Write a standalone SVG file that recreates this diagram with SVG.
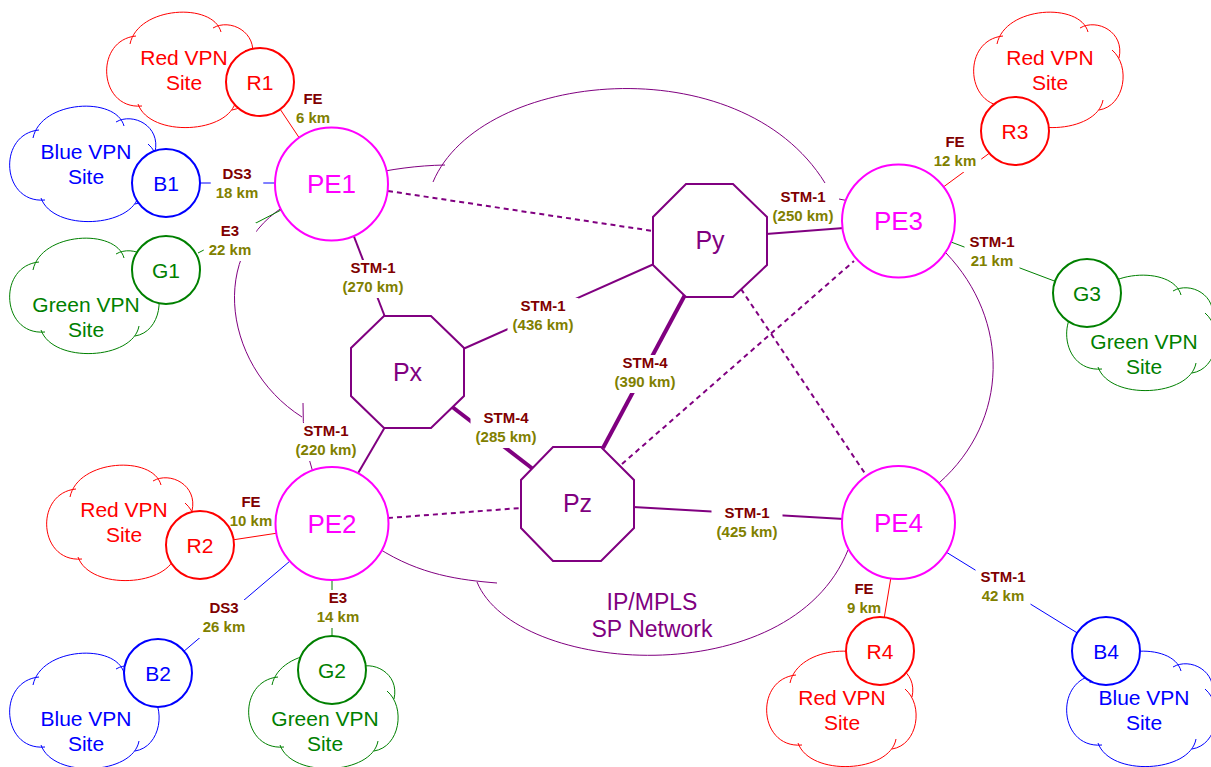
<svg xmlns="http://www.w3.org/2000/svg" width="1211" height="767" viewBox="0 0 1211 767">
<style>
text { font-family: "Liberation Sans", Arial, sans-serif; text-anchor: middle; }
.cloud { fill: none; stroke-width: 1; }
.red { stroke: #ff0000; }
.blue { stroke: #0000ff; }
.green { stroke: #008000; }
.tred { fill: #ff0000; }
.tblue { fill: #0000ff; }
.tgreen { fill: #008000; }
.site { fill: #ffffff; stroke-width: 2; }
.sitelbl { font-size: 21px; }
.ctext { font-size: 21px; }
.pe { fill: #ffffff; stroke: #ff00ff; stroke-width: 2; }
.pelbl { font-size: 26px; fill: #ff00ff; }
.core { fill: #ffffff; stroke: #800080; stroke-width: 2; }
.corelbl { font-size: 25px; fill: #800080; }
.net { fill: none; stroke: #800080; stroke-width: 1; }
.nettext { font-size: 23px; fill: #800080; }
.acc { stroke-width: 1; fill: none; }
.stm1 { stroke: #800080; stroke-width: 2; }
.stm4 { stroke: #800080; stroke-width: 4; }
.dot { stroke: #800080; stroke-width: 2; stroke-dasharray: 5 4; }
.lbg { fill: #ffffff; }
.l1 { font-size: 15px; font-weight: bold; fill: #800000; }
.l2 { font-size: 15px; font-weight: bold; fill: #808000; }
</style>
<defs>
<path id="cloud" d="M 34,92 C -10,96 -14,26 28,22 M 22,30 C 30,-8 105,-12 113,18 M 105,14 C 122,4 150,18 144,44 M 137,36 C 156,52 150,92 124,96 M 128,86 C 122,120 42,124 30,90"/>
</defs>

<g id="network">
<path class="net" d="M 302,417 C 220,365 205,240 300,198 C 335,180 390,166 445,165"/>
<path class="net" d="M 303,403 Q 302,440 314,476"/>
<path class="net" d="M 433,182 C 480,70 740,45 825,183"/>
<path class="net" d="M 839,199 Q 850,200 862,206"/>
<path class="net" d="M 946,253 C 1010,320 1010,420 939,483"/>
<path class="net" d="M 477,582 C 515,675 790,695 848,550"/>
<path class="net" d="M 378,548 C 420,575 460,580 497,583"/>
<text class="nettext" x="652" y="610">IP/MPLS</text>
<text class="nettext" x="652" y="637">SP Network</text>
</g>

<g id="connectors">
<line class="acc red" x1="278" y1="106" x2="300" y2="139"/>
<line class="acc blue" x1="199" y1="183" x2="276" y2="183"/>
<line class="acc green" x1="198" y1="253" x2="283" y2="209"/>
<line class="acc red" x1="232" y1="540" x2="278" y2="533"/>
<line class="acc blue" x1="183" y1="652" x2="290" y2="561"/>
<line class="acc green" x1="332" y1="578" x2="332" y2="638"/>
<line class="acc red" x1="942" y1="188" x2="991" y2="152"/>
<line class="acc green" x1="951" y1="242" x2="1057" y2="282"/>
<line class="acc red" x1="891" y1="577" x2="884" y2="619"/>
<line class="acc blue" x1="946" y1="552" x2="1079" y2="634"/>
<line class="stm1" x1="353" y1="234" x2="385" y2="317"/>
<line class="stm1" x1="463" y1="349" x2="654" y2="264"/>
<line class="stm1" x1="766" y1="234" x2="844" y2="228"/>
<line class="stm1" x1="385" y1="427" x2="357" y2="475"/>
<line class="stm1" x1="633" y1="507" x2="844" y2="519"/>
<line class="stm4" x1="686" y1="293" x2="603" y2="448"/>
<line class="stm4" x1="451" y1="406" x2="533" y2="469"/>
<line class="dot" x1="388" y1="191" x2="653" y2="231"/>
<line class="dot" x1="388" y1="518" x2="521" y2="508"/>
<line class="dot" x1="741" y1="289" x2="866" y2="475"/>
<line class="dot" x1="622" y1="464" x2="854" y2="261"/>

<g id="labels">
<text class="l1" x="313" y="104">FE</text><text class="l2" x="313" y="123">6 km</text>
<rect class="lbg" x="210.75" y="166" width="52.5" height="38"/><text class="l1" x="237" y="179">DS3</text><text class="l2" x="237" y="198">18 km</text>
<rect class="lbg" x="203.75" y="223" width="52.5" height="38"/><text class="l1" x="230" y="236">E3</text><text class="l2" x="230" y="255">22 km</text>
<rect class="lbg" x="337.5" y="260" width="71" height="38"/><text class="l1" x="373" y="273">STM-1</text><text class="l2" x="373" y="292">(270 km)</text>
<rect class="lbg" x="507.5" y="298" width="71" height="38"/><text class="l1" x="543" y="311">STM-1</text><text class="l2" x="543" y="330">(436 km)</text>
<rect class="lbg" x="609.5" y="355" width="71" height="38"/><text class="l1" x="645" y="368">STM-4</text><text class="l2" x="645" y="387">(390 km)</text>
<rect class="lbg" x="470.5" y="410" width="71" height="38"/><text class="l1" x="506" y="423">STM-4</text><text class="l2" x="506" y="442">(285 km)</text>
<text class="l1" x="803" y="202">STM-1</text><text class="l2" x="803" y="221">(250 km)</text>
<rect class="lbg" x="290.5" y="423" width="71" height="38"/><text class="l1" x="326" y="436">STM-1</text><text class="l2" x="326" y="455">(220 km)</text>
<text class="l1" x="251" y="507">FE</text><text class="l2" x="251" y="526">10 km</text>
<rect class="lbg" x="197.75" y="600" width="52.5" height="38"/><text class="l1" x="224" y="613">DS3</text><text class="l2" x="224" y="632">26 km</text>
<rect class="lbg" x="311.75" y="590" width="52.5" height="38"/><text class="l1" x="338" y="603">E3</text><text class="l2" x="338" y="622">14 km</text>
<rect class="lbg" x="928.75" y="134" width="52.5" height="38"/><text class="l1" x="955" y="147">FE</text><text class="l2" x="955" y="166">12 km</text>
<rect class="lbg" x="964.5" y="234" width="55" height="38"/><text class="l1" x="992" y="247">STM-1</text><text class="l2" x="992" y="266">21 km</text>
<rect class="lbg" x="711.5" y="505" width="71" height="38"/><text class="l1" x="747" y="518">STM-1</text><text class="l2" x="747" y="537">(425 km)</text>
<text class="l1" x="864" y="594">FE</text><text class="l2" x="864" y="613">9 km</text>
<rect class="lbg" x="975.5" y="569" width="55" height="38"/><text class="l1" x="1003" y="582">STM-1</text><text class="l2" x="1003" y="601">42 km</text>
</g>
</g>

<g id="PE1"><circle class="pe" cx="331.5" cy="184" r="56.5"/><text class="pelbl" x="331.5" y="193">PE1</text></g>
<g id="PE2"><circle class="pe" cx="332" cy="523.5" r="56.5"/><text class="pelbl" x="332" y="532.5">PE2</text></g>
<g id="PE3"><circle class="pe" cx="898.5" cy="221" r="56.5"/><text class="pelbl" x="898.5" y="230">PE3</text></g>
<g id="PE4"><circle class="pe" cx="898.5" cy="522.5" r="56.5"/><text class="pelbl" x="898.5" y="531.5">PE4</text></g>

<g id="Px"><polygon class="core" points="384,316 431,316 464,348 464,396 431,428 384,428 351,396 351,348"/><text class="corelbl" x="407.5" y="381">Px</text></g>
<g id="Py"><polygon class="core" points="686,184 733,184 767,217 767,265 733,297 686,297 653,265 653,217"/><text class="corelbl" x="710" y="249">Py</text></g>
<g id="Pz"><polygon class="core" points="553,447 601,447 634,480 634,528 601,561 553,561 521,528 521,480"/><text class="corelbl" x="577.5" y="512">Pz</text></g>

<g id="R1"><use href="#cloud" class="cloud red" transform="translate(108,14)"/><circle class="site red" cx="260" cy="82" r="34"/><text class="sitelbl tred" x="260" y="90">R1</text><text class="ctext tred" x="184" y="65">Red VPN</text><text class="ctext tred" x="184" y="90">Site</text></g>
<g id="B1"><use href="#cloud" class="cloud blue" transform="translate(11,108)"/><circle class="site blue" cx="166" cy="183" r="34"/><text class="sitelbl tblue" x="166" y="191">B1</text><text class="ctext tblue" x="86" y="159">Blue VPN</text><text class="ctext tblue" x="86" y="184">Site</text></g>
<g id="G1"><use href="#cloud" class="cloud green" transform="translate(11,240)"/><circle class="site green" cx="166" cy="270" r="34"/><text class="sitelbl tgreen" x="166" y="278">G1</text><text class="ctext tgreen" x="86" y="312">Green VPN</text><text class="ctext tgreen" x="86" y="337">Site</text></g>
<g id="R2"><use href="#cloud" class="cloud red" transform="translate(48,467)"/><circle class="site red" cx="200" cy="545" r="34"/><text class="sitelbl tred" x="200" y="553">R2</text><text class="ctext tred" x="124" y="517">Red VPN</text><text class="ctext tred" x="124" y="542">Site</text></g>
<g id="B2"><use href="#cloud" class="cloud blue" transform="translate(11,655)"/><circle class="site blue" cx="158" cy="673" r="34"/><text class="sitelbl tblue" x="158" y="681">B2</text><text class="ctext tblue" x="86" y="726">Blue VPN</text><text class="ctext tblue" x="86" y="751">Site</text></g>
<g id="G2"><use href="#cloud" class="cloud green" transform="translate(250,655)"/><circle class="site green" cx="332" cy="670" r="34"/><text class="sitelbl tgreen" x="332" y="678">G2</text><text class="ctext tgreen" x="325" y="726">Green VPN</text><text class="ctext tgreen" x="325" y="751">Site</text></g>
<g id="R3"><use href="#cloud" class="cloud red" transform="translate(975,14)"/><circle class="site red" cx="1015" cy="131" r="34"/><text class="sitelbl tred" x="1015" y="139">R3</text><text class="ctext tred" x="1050" y="65">Red VPN</text><text class="ctext tred" x="1050" y="90">Site</text></g>
<g id="G3"><use href="#cloud" class="cloud green" transform="translate(1068,277)"/><circle class="site green" cx="1087" cy="293" r="34"/><text class="sitelbl tgreen" x="1087" y="301">G3</text><text class="ctext tgreen" x="1144" y="349">Green VPN</text><text class="ctext tgreen" x="1144" y="374">Site</text></g>
<g id="R4"><use href="#cloud" class="cloud red" transform="translate(768,653)"/><circle class="site red" cx="880" cy="651" r="34"/><text class="sitelbl tred" x="880" y="659">R4</text><text class="ctext tred" x="842" y="705">Red VPN</text><text class="ctext tred" x="842" y="730">Site</text></g>
<g id="B4"><use href="#cloud" class="cloud blue" transform="translate(1068,653)"/><circle class="site blue" cx="1106" cy="651" r="34"/><text class="sitelbl tblue" x="1106" y="659">B4</text><text class="ctext tblue" x="1144" y="705">Blue VPN</text><text class="ctext tblue" x="1144" y="730">Site</text></g>
</svg>
